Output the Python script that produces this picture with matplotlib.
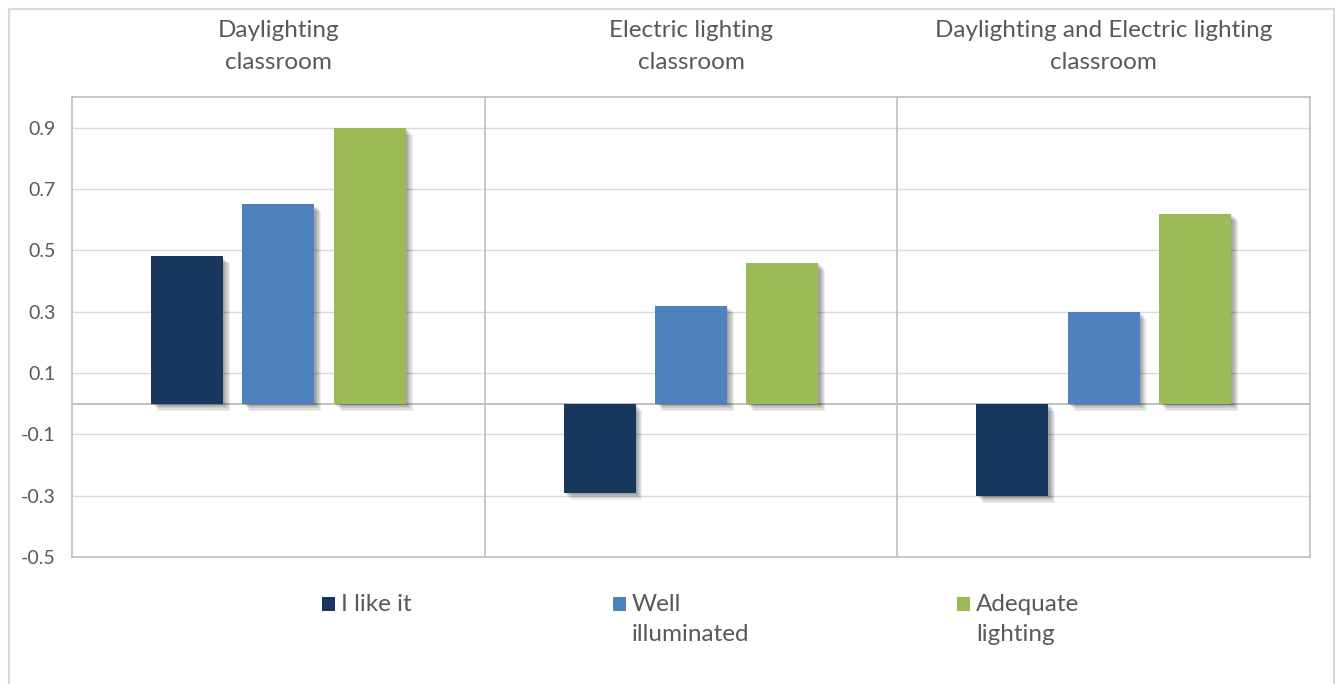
import matplotlib
matplotlib.use("Agg")
import matplotlib.pyplot as plt
import matplotlib.patches as mpatches
import matplotlib.patheffects as pe
import numpy as np

# Data
panels = ["Daylighting\nclassroom",
          "Electric lighting\nclassroom",
          "Daylighting and Electric lighting\nclassroom"]
series = ["I like it", "Well\nilluminated", "Adequate\nlighting"]
i_like_it = [0.48, -0.29, -0.30]
well_illuminated = [0.65, 0.32, 0.30]
adequate_lighting = [0.90, 0.46, 0.62]
yticks = [-0.5, -0.3, -0.1, 0.1, 0.3, 0.5, 0.7, 0.9]

colors = ["#17375E", "#4F81BD", "#9BBB59"]
text_color = "#595959"
grid_color = "#D9D9D9"
frame_color = "#BFBFBF"
font = ["Lato", "DejaVu Sans"]

W, H = 1337, 684
fig = plt.figure(figsize=(W / 100, H / 100), dpi=100)
fig.patch.set_facecolor("white")

# outer chart border
fig.add_artist(mpatches.Rectangle((9 / W, -0.05), (1334 - 9) / W, 1 - 9 / H + 0.05,
                                  transform=fig.transFigure, fill=False,
                                  edgecolor="#D9D9D9", linewidth=1.5))

left, right, top, bottom = 72, 1310, 97, 557
ax = fig.add_axes([left / W, 1 - bottom / H, (right - left) / W, (bottom - top) / H])
ax.set_xlim(0, 3)
ax.set_ylim(-0.5, 1.0)

for sp in ax.spines.values():
    sp.set_color(frame_color)
    sp.set_linewidth(1.2)

ax.set_yticks(yticks)
ax.set_yticklabels([f"{t:.1f}" for t in yticks], fontsize=14, color=text_color,
                   family=font)
ax.tick_params(axis="y", length=0, pad=12)
ax.set_xticks([])
ax.grid(axis="y", color=grid_color, linewidth=1.0)
ax.set_axisbelow(True)
ax.axhline(0, color=frame_color, linewidth=1.4, zorder=1)
for xv in (1, 2):
    ax.axvline(xv, color=frame_color, linewidth=1.2, zorder=1)

# soft drop shadow built from layered offset shadows
shadow = [pe.SimplePatchShadow(offset=(dx, -dx), shadow_rgbFace="black", alpha=0.07)
          for dx in (1.0, 1.8, 2.6, 3.4, 4.2, 5.0)] + [pe.Normal()]

step = 91.5 / 413
width = 72 / 413
x = np.arange(3) + 0.5
for j, vals in enumerate([i_like_it, well_illuminated, adequate_lighting]):
    bars = ax.bar(x + (j - 1) * step, vals, width=width, color=colors[j],
                  zorder=3, label=series[j])
    for b in bars:
        b.set_path_effects(shadow)

# panel titles
for i, name in enumerate(panels):
    ax.text(i + 0.5, 1.0 + 0.165, name, transform=ax.transData, ha="center",
            va="center", fontsize=17.5, color=text_color, family=font,
            linespacing=1.6, clip_on=False)

# legend entries
legend_x = [322, 613, 957]
for j, name in enumerate(series):
    fig.add_artist(mpatches.Rectangle((legend_x[j] / W, 1 - 611 / H), 13 / W, 14 / H,
                                      transform=fig.transFigure,
                                      facecolor=colors[j], edgecolor="none"))
    fig.text((legend_x[j] + 19) / W, 1 - 594 / H, name, ha="left", va="top",
             fontsize=17.5, color=text_color, family=font, linespacing=1.55,
             transform=fig.transFigure)

fig.savefig("out.png", dpi=100, facecolor="white")
